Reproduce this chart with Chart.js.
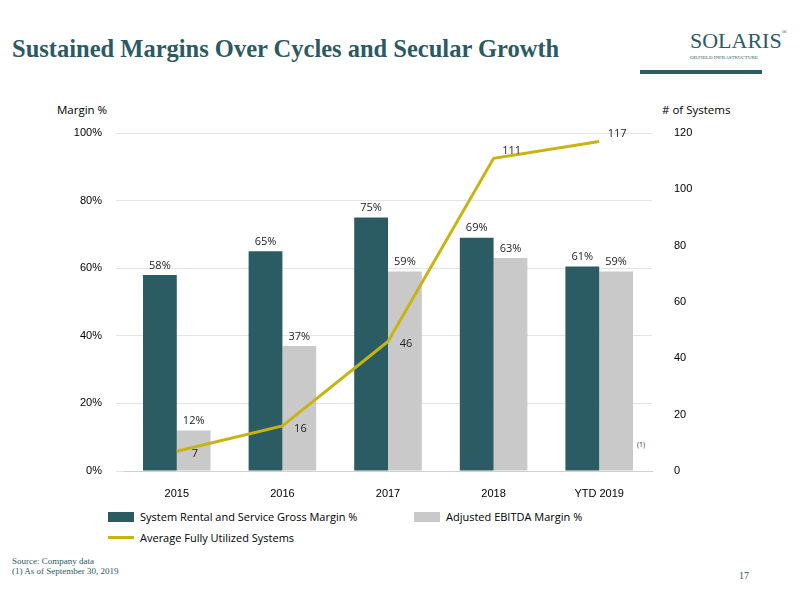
<!DOCTYPE html>
<html><head><meta charset="utf-8">
<script src="https://cdn.jsdelivr.net/npm/chart.js@4"></script>
<style>
body{margin:0;width:800px;height:600px;position:relative;background:#fff;font-family:"Open Sans","Liberation Sans",sans-serif;overflow:hidden}
.a{position:absolute;white-space:nowrap}
#c{position:absolute;left:0;top:0}
</style></head><body>
<div class="a" style="left:12px;top:35px;font:bold 24.5px 'Liberation Serif',serif;color:#2b5a63">Sustained Margins Over Cycles and Secular Growth</div>
<div class="a" style="left:640px;top:70px;width:122px;height:4px;background:#2b5c63"></div>
<div class="a" style="left:690px;top:28px;font:22px 'Liberation Serif',serif;color:#2b5c63">SOLARIS<span style="font-size:7px;vertical-align:top">®</span></div>
<div class="a" style="left:690px;top:55px;font:5px 'Liberation Serif',serif;color:#2b5c63">OILFIELD INFRASTRUCTURE</div>
<div class="a" style="left:57px;top:102px;font-size:11.5px;color:#000">Margin %</div>
<div class="a" style="left:662px;top:102px;font-size:11.5px;color:#000"># of Systems</div>
<div class="a" style="left:637px;top:440px;font-size:7px;color:#333">(1)</div>
<div class="a" style="left:108px;top:509px;font-size:11px"><span style="display:inline-block;width:26px;height:10px;background:#2b5c63;vertical-align:-1px;margin-right:6px"></span>System Rental and Service Gross Margin %</div>
<div class="a" style="left:414px;top:509px;font-size:11px"><span style="display:inline-block;width:26px;height:10px;background:#c9c9c9;vertical-align:-1px;margin-right:6px"></span>Adjusted EBITDA Margin %</div>
<div class="a" style="left:108px;top:530px;font-size:11px"><span style="display:inline-block;width:26px;height:3px;background:#c8b410;vertical-align:3px;margin-right:6px"></span>Average Fully Utilized Systems</div>
<div class="a" style="left:12px;top:556px;font:9px 'Liberation Serif',serif;color:#2b5a63">Source: Company data</div>
<div class="a" style="left:12px;top:566px;font:9px 'Liberation Serif',serif;color:#2b5a63">(1) As of September 30, 2019</div>
<div class="a" style="left:739px;top:570px;font:10px 'Liberation Serif',serif;color:#2b5a63">17</div>
<canvas id="c" width="800" height="600"></canvas>
<script>
const categories=["2015","2016","2017","2018","YTD 2019"];
const grossMargin=[58,65,75,69,60.5];
const grossLabels=["58%","65%","75%","69%","61%"];
const ebitdaMargin=[12,37,59,63,59];
const ebitdaLabels=["12%","37%","59%","63%","59%"];
const systems=[7,16,46,111,117];
const leftTicks=[0,20,40,60,80,100];
const rightTicks=[0,20,40,60,80,100,120];
const labelPlugin={id:'lbl',afterDatasetsDraw(ch){
 const ctx=ch.ctx;ctx.save();ctx.font='11px "Open Sans",sans-serif';ctx.fillStyle='#222';ctx.textAlign='center';ctx.textBaseline='bottom';
 const sets=[grossLabels,ebitdaLabels];
 [0,1].forEach(d=>ch.getDatasetMeta(d).data.forEach((b,i)=>ctx.fillText(sets[d][i],b.x,b.y-4)));
 ch.getDatasetMeta(2).data.forEach((p,i)=>{ctx.fillText(String(systems[i]),p.x+18,p.y+(i<3?8:-2));});
 ctx.restore();}};
new Chart(document.getElementById('c'),{
 data:{labels:categories,datasets:[
  {type:'bar',data:grossMargin,backgroundColor:'#2b5c63',yAxisID:'y',order:2,categoryPercentage:0.64,barPercentage:1},
  {type:'bar',data:ebitdaMargin,backgroundColor:'#c9c9c9',yAxisID:'y',order:2,categoryPercentage:0.64,barPercentage:1},
  {type:'line',data:systems,borderColor:'#c8b410',borderWidth:3,pointRadius:0,yAxisID:'y2',order:1,tension:0}
 ]},
 options:{responsive:false,animation:false,
  layout:{padding:{top:133,bottom:89,left:0,right:0}},
  plugins:{legend:{display:false},tooltip:{enabled:false}},
  scales:{
   x:{grid:{display:false},border:{color:'#d0d0d0'},ticks:{color:'#000',font:{size:11},padding:8},afterFit(s){s.height=40;}},
   y:{min:0,max:100,afterBuildTicks(s){s.ticks=leftTicks.map(v=>({value:v}));},ticks:{color:'#000',font:{size:11},padding:14,callback:v=>v+'%'},grid:{color:'#e4e4e4'},border:{display:false},afterFit(s){s.width=124;}},
   y2:{position:'right',min:0,max:120,afterBuildTicks(s){s.ticks=rightTicks.map(v=>({value:v}));},ticks:{color:'#000',font:{size:11},padding:14},grid:{display:false},border:{display:false},afterFit(s){s.width=148;}}
  }},
 plugins:[labelPlugin]});
</script></body></html>
